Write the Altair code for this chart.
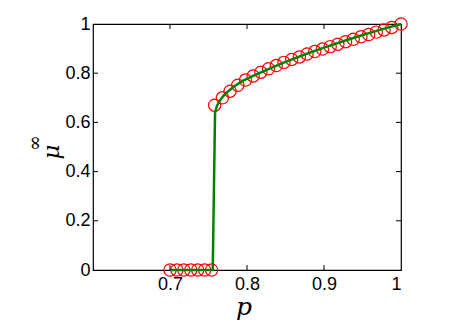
import altair as alt
import pandas as pd

# Simulation points (red circles)
p_low = [0.700, 0.709, 0.718, 0.727, 0.736, 0.745, 0.754]
mu_low = [0, 0, 0, 0, 0, 0, 0]
p_high = [0.758, 0.768, 0.778, 0.788, 0.798, 0.808, 0.818, 0.828, 0.838, 0.848,
          0.858, 0.868, 0.878, 0.888, 0.898, 0.908, 0.918, 0.928, 0.938, 0.948,
          0.958, 0.968, 0.978, 0.988, 1.000]
mu_high = [0.670, 0.700, 0.727, 0.751, 0.772, 0.789, 0.804, 0.818, 0.831, 0.844,
           0.856, 0.866, 0.878, 0.888, 0.898, 0.908, 0.918, 0.928, 0.938, 0.948,
           0.957, 0.967, 0.976, 0.986, 1.000]

# Theory curve (green line)
p_line = [0.700, 0.7555, 0.7585, 0.761, 0.765, 0.770, 0.776, 0.784, 0.795, 0.810,
          0.830, 0.850, 0.875, 0.900, 0.925, 0.950, 0.975, 1.000]
mu_line = [0, 0, 0.640, 0.668, 0.690, 0.710, 0.728, 0.748, 0.770, 0.792,
           0.820, 0.846, 0.876, 0.904, 0.930, 0.955, 0.978, 1.000]

x_ticks = [0.7, 0.8, 0.9]
y_ticks = [0.2, 0.4, 0.6, 0.8]

W, H = 308, 246

pts = pd.DataFrame({"p": p_low + p_high, "mu": mu_low + mu_high})
line_df = pd.DataFrame({"p": p_line, "mu": mu_line, "o": list(range(len(p_line)))})
xt = pd.DataFrame({"v": x_ticks})
yt = pd.DataFrame({"v": y_ticks})

xs = alt.Scale(domain=[0.6, 1.0], nice=False, zero=False)
ys = alt.Scale(domain=[0, 1], nice=False)

font = "Liberation Sans"

circles = alt.Chart(pts).mark_point(
    shape="circle", filled=False, color="#ff0000", size=150, strokeWidth=1.2, opacity=1
).encode(
    x=alt.X("p:Q", scale=xs, axis=alt.Axis(
        values=[0.7, 0.8, 0.9, 1.0], format="~g", ticks=False, domain=False, grid=False,
        labelFont=font, labelFontSize=18, labelColor="black", labelPadding=5, title=None)),
    y=alt.Y("mu:Q", scale=ys, axis=alt.Axis(
        values=[0, 0.2, 0.4, 0.6, 0.8, 1.0], format="~g", ticks=False, domain=False, grid=False,
        labelFont=font, labelFontSize=18, labelColor="black", labelPadding=3, title=None)),
)

line = alt.Chart(line_df).mark_line(color="#008000", strokeWidth=2.5).encode(
    x=alt.X("p:Q", scale=xs), y=alt.Y("mu:Q", scale=ys), order="o:Q"
)

tick_b = alt.Chart(xt).mark_rule(color="black", strokeWidth=1).encode(
    x=alt.X("v:Q", scale=xs), y=alt.value(H), y2=alt.value(H - 5))
tick_t = alt.Chart(xt).mark_rule(color="black", strokeWidth=1).encode(
    x=alt.X("v:Q", scale=xs), y=alt.value(0), y2=alt.value(5))
tick_l = alt.Chart(yt).mark_rule(color="black", strokeWidth=1).encode(
    y=alt.Y("v:Q", scale=ys), x=alt.value(0), x2=alt.value(5))
tick_r = alt.Chart(yt).mark_rule(color="black", strokeWidth=1).encode(
    y=alt.Y("v:Q", scale=ys), x=alt.value(W), x2=alt.value(W - 5))

xlab = alt.Chart(pd.DataFrame({"t": ["p"]})).mark_text(
    font="DejaVu Serif", fontStyle="italic", fontSize=25, color="black", baseline="alphabetic"
).encode(text="t:N", x=alt.value(151), y=alt.value(291))

ylab = alt.Chart(pd.DataFrame({"t": ["μ"]})).mark_text(
    font="DejaVu Serif", fontStyle="italic", fontSize=23, color="black", angle=270,
    baseline="middle"
).encode(text="t:N", x=alt.value(-41), y=alt.value(128))

ysup = alt.Chart(pd.DataFrame({"t": ["∞"]})).mark_text(
    font="DejaVu Serif", fontSize=19, color="black", angle=270, baseline="middle"
).encode(text="t:N", x=alt.value(-58), y=alt.value(119))

chart = alt.layer(circles, line, tick_b, tick_t, tick_l, tick_r, xlab, ylab, ysup).properties(
    width=W, height=H,
    background="white",
    autosize=alt.AutoSizeParams(type="none"),
    padding={"left": 85, "top": 16, "right": 59, "bottom": 53},
).configure_view(stroke="black", strokeWidth=1.2)

chart.save("out.html", embed_options={"renderer": "svg", "actions": False})
